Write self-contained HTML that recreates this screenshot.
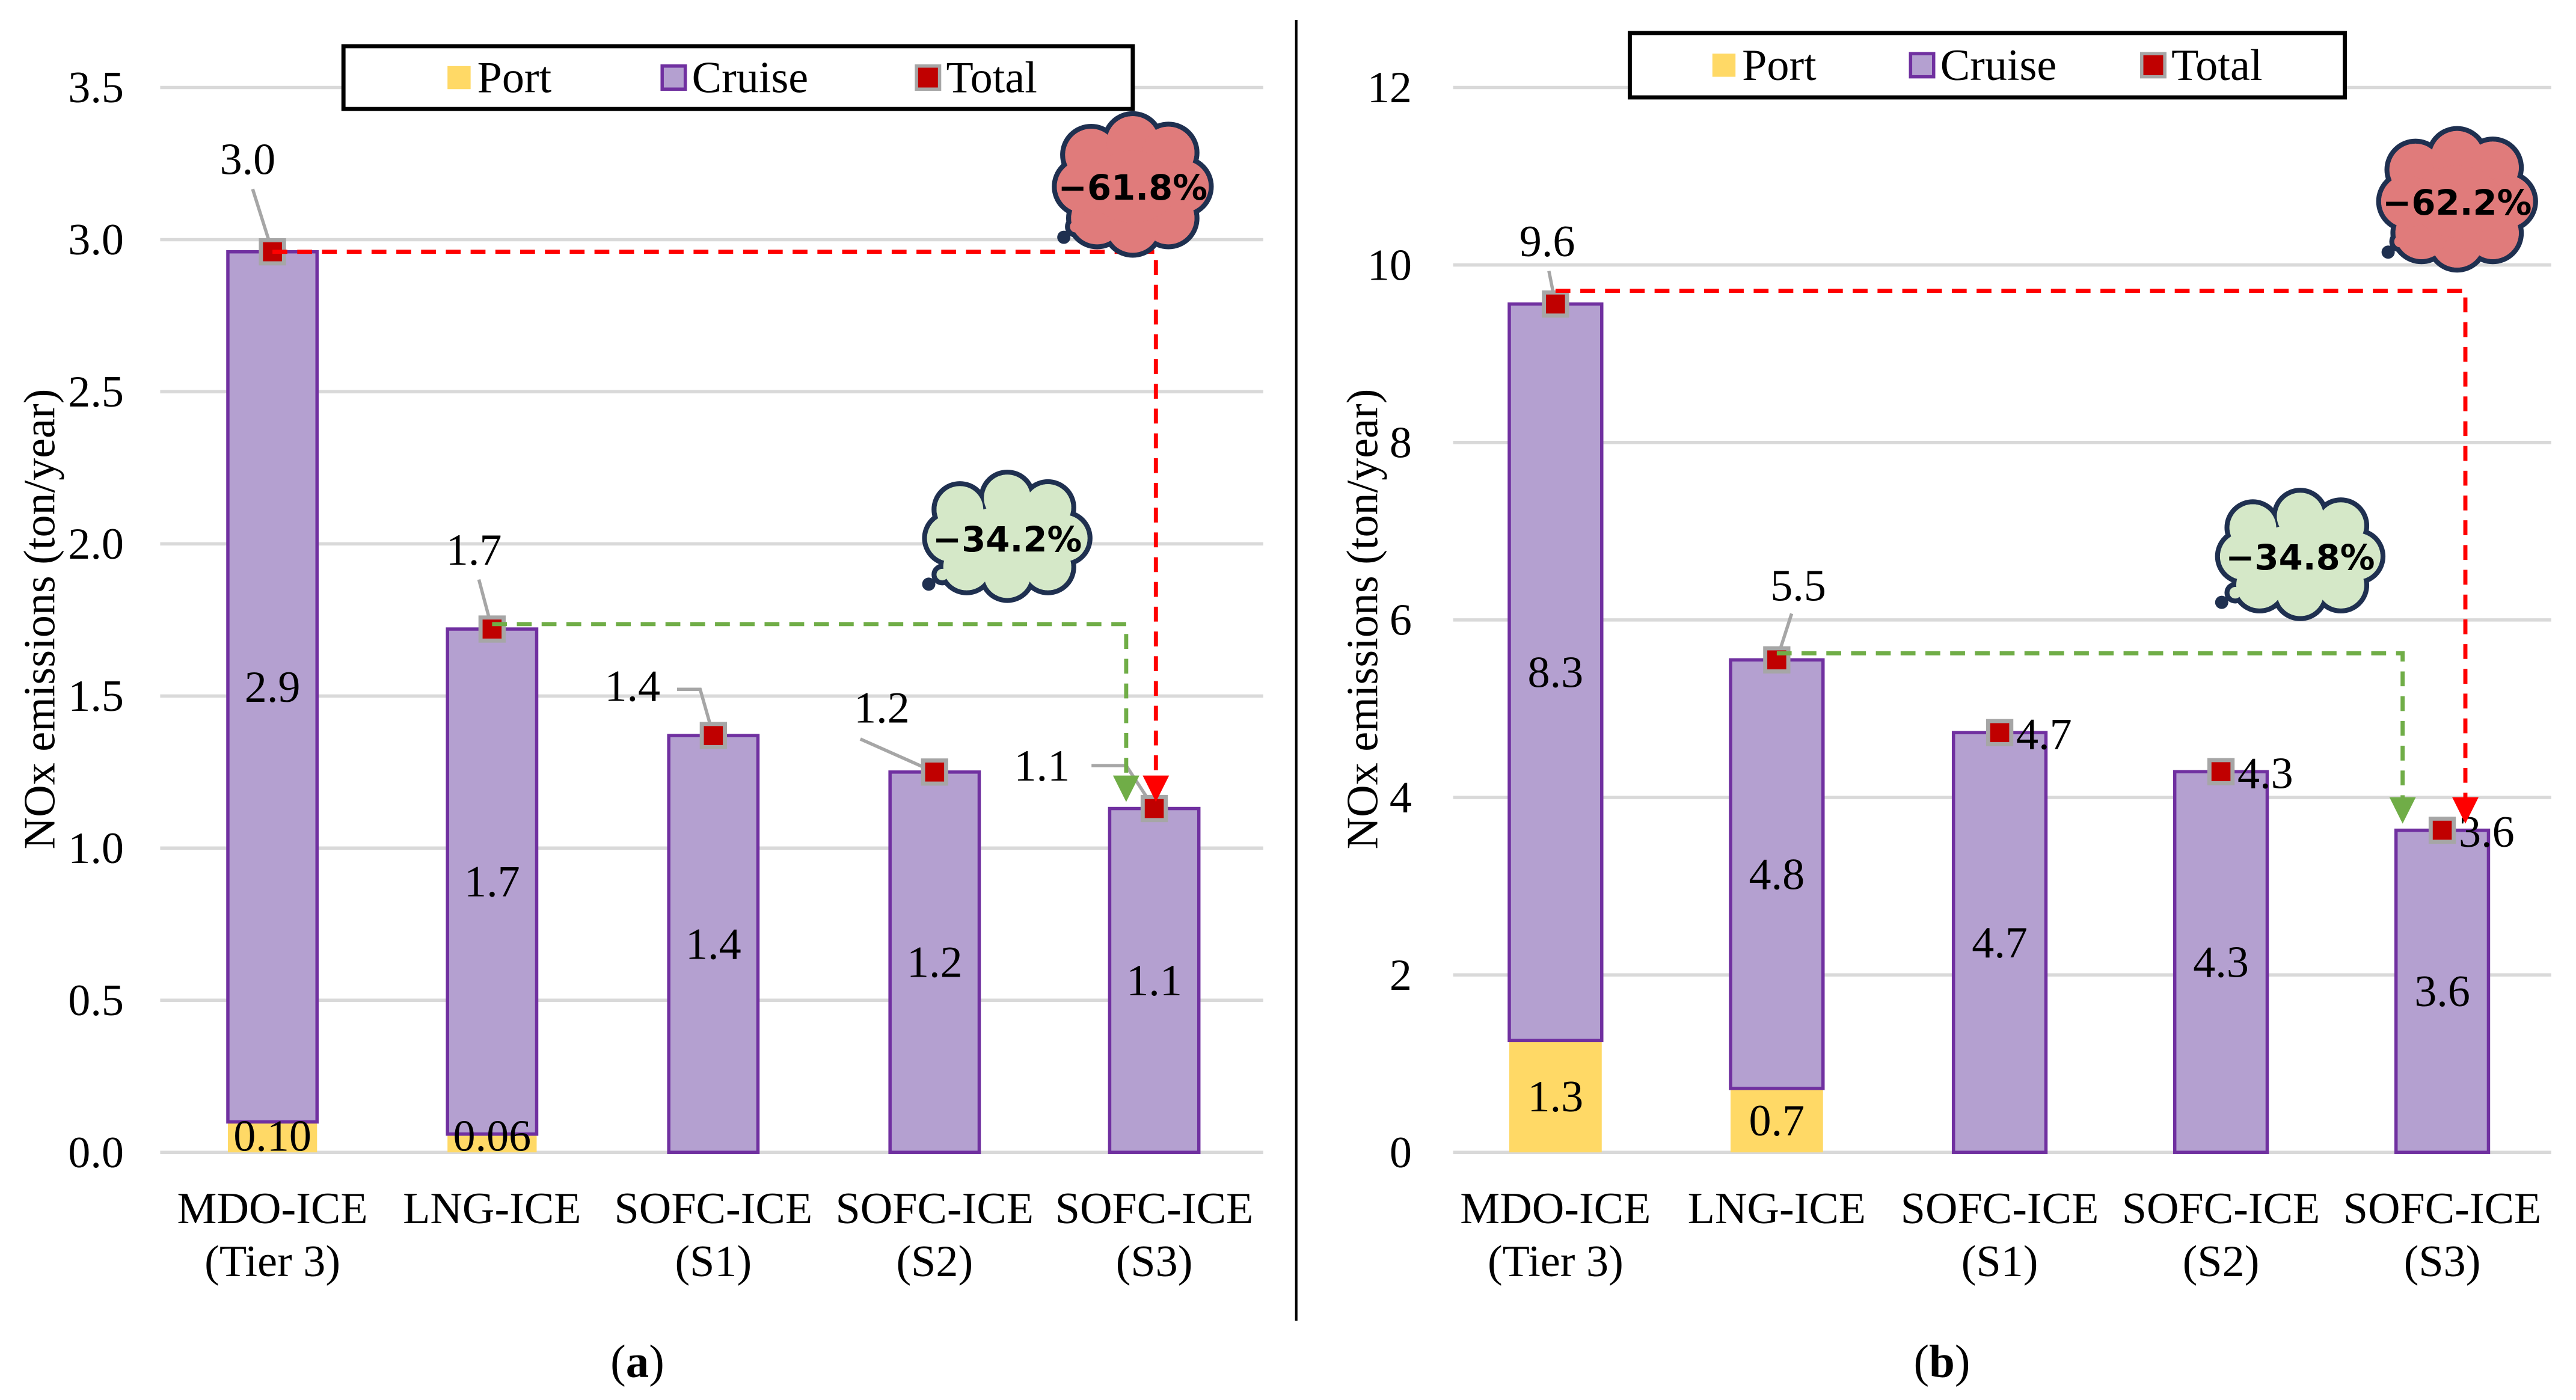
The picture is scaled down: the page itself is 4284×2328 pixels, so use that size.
<!DOCTYPE html>
<html><head><meta charset="utf-8"><style>
html,body{margin:0;padding:0;background:#fff;}
svg{display:block;}
</style></head><body>
<svg id="chart" width="4284" height="2328" viewBox="0 0 1560 848" preserveAspectRatio="none" xmlns="http://www.w3.org/2000/svg">
<rect x="0" y="0" width="1560" height="848" fill="#fff"/>
<line x1="785" y1="12" x2="785" y2="800" stroke="#000" stroke-width="1.5"/>
</svg>
<script>
const categories = [["MDO-ICE","(Tier 3)"],["LNG-ICE",""],["SOFC-ICE","(S1)"],["SOFC-ICE","(S2)"],["SOFC-ICE","(S3)"]];
const portA = [0.10,0.06,0,0,0];
const cruiseA = [2.86,1.66,1.37,1.25,1.13];
const cruiseLabelsA = ["2.9","1.7","1.4","1.2","1.1"];
const portLabelsA = ["0.10","0.06","","",""];
const totalLabelsA = ["3.0","1.7","1.4","1.2","1.1"];
const ticksA = [0,0.5,1.0,1.5,2.0,2.5,3.0,3.5];
const tickLabelsA = ["0.0","0.5","1.0","1.5","2.0","2.5","3.0","3.5"];
const portB = [1.26,0.72,0,0,0];
const cruiseB = [8.30,4.83,4.73,4.29,3.63];
const cruiseLabelsB = ["8.3","4.8","4.7","4.3","3.6"];
const portLabelsB = ["1.3","0.7","","",""];
const totalLabelsB = ["9.6","5.5","4.7","4.3","3.6"];
const ticksB = [0,2,4,6,8,10,12];
const tickLabelsB = ["0","2","4","6","8","10","12"];

const NS="http://www.w3.org/2000/svg";
const SERIF="font-family:'Liberation Serif','DejaVu Serif',serif";
const SANSB="font-family:'DejaVu Sans','Liberation Sans',sans-serif;font-weight:bold";
const FS=27;
const svg=document.getElementById('chart');
function el(tag,attrs,parent){const e=document.createElementNS(NS,tag);for(const k in attrs)e.setAttribute(k,attrs[k]);(parent||svg).appendChild(e);return e;}
function txt(s,attrs,parent){if(!attrs.style)attrs.style=SERIF;const e=el('text',attrs,parent);e.textContent=s;return e;}

function cloud(g,cx,cy,w,h,fill,label){
  const pts=[[-0.35,-0.3],[0,-0.42],[0.3,-0.32],[0.42,0],[0.3,0.3],[0,0.38],[-0.3,0.3],[-0.42,0]];
  const r=Math.min(w,h)*0.27;
  pts.forEach(p=>el('circle',{cx:cx+p[0]*w,cy:cy+p[1]*h,r:r,fill:fill,stroke:'#1f3050','stroke-width':3},g));
  el('circle',{cx:cx-0.48*w,cy:cy+0.38*h,r:5,fill:fill,stroke:'#1f3050','stroke-width':3},g);
  el('circle',{cx:cx-0.58*w,cy:cy+0.48*h,r:4,fill:'#1f3050'},g);
  pts.forEach(p=>el('circle',{cx:cx+p[0]*w,cy:cy+p[1]*h,r:r-1.5,fill:fill},g));
  el('ellipse',{cx:cx,cy:cy,rx:w*0.38,ry:h*0.34,fill:fill},g);
  return txt(label,{x:cx,y:cy+8,'text-anchor':'middle','font-size':21,style:SANSB,fill:'#000'},g);
}

function panel(cfg){
  const g=el('g',{});
  
  
  const y=v=>cfg.y0-(v/cfg.max)*(cfg.y0-cfg.yTop);
  const xc=i=>cfg.xs[i];
  cfg.ticks.forEach((t,i)=>{
    const gl=el('line',{x1:cfg.gx1,x2:cfg.gx2,y1:y(t),y2:y(t),stroke:'#d9d9d9','stroke-width':2},g);
    
    
    const tl=txt(cfg.tickLabels[i],{x:cfg.tickX,y:y(t)+9,'text-anchor':'end','font-size':FS},g);
    
    
  });
  const yt=txt('NOx emissions (ton/year)',{x:0,y:0,'text-anchor':'middle','font-size':FS,transform:`translate(${cfg.titleX},375) rotate(-90)`},g);
  
  
  const bw=cfg.bw;
  categories.forEach((c,i)=>{
    const p=cfg.port[i], cr=cfg.cruise[i], tot=p+cr;
    if(p>0){
      const pb=el('rect',{x:xc(i)-bw/2,y:y(p),width:bw,height:y(0)-y(p),fill:'#ffd966'},g);
      
      
    }
    const cb=el('rect',{x:xc(i)-bw/2,y:y(tot),width:bw,height:y(p)-y(tot),fill:'#b4a0d0',stroke:'#7030a0','stroke-width':2},g);
    
    
    const cl=txt(cfg.cruiseLabels[i],{x:xc(i),y:(y(p)+y(tot))/2+9,'text-anchor':'middle','font-size':FS},g);
    
    
    if(cfg.portLabels[i]){
      const ly=cfg.portInside?(y(0)+y(p))/2+9:y(0)-1;
      const pl=txt(cfg.portLabels[i],{x:xc(i),y:ly,'text-anchor':'middle','font-size':FS},g);
      
      
    }
    const lab=cfg.totalLabelPos[i];
    if(lab.line){
      const ln=el('polyline',{points:lab.line.map(q=>(xc(i)+q[0])+','+(y(tot)+q[1])).join(' '),fill:'none',stroke:'#a6a6a6','stroke-width':2},g);
      
      
    }
    const tl=txt(cfg.totalLabels[i],{x:xc(i)+lab.dx,y:y(tot)+lab.dy,'text-anchor':lab.anchor||'middle','font-size':FS},g);
    
    
    const mk=el('rect',{x:xc(i)-7,y:y(tot)-7,width:14,height:14,fill:'#c00000',stroke:'#a6a6a6','stroke-width':2.5},g);
    
    
    c.forEach((line,k)=>{
      if(!line)return;
      const ct=txt(line,{x:xc(i),y:741+k*32,'text-anchor':'middle','font-size':FS},g);
      
      
    });
  });
  const t0=cfg.port[0]+cfg.cruise[0], t1=cfg.port[1]+cfg.cruise[1], t4=cfg.port[4]+cfg.cruise[4];
  const ry=y(t0)-cfg.redOff;
  const rd=el('polyline',{points:`${xc(0)},${ry} ${cfg.redX},${ry} ${cfg.redX},${y(t4)-18}`,fill:'none',stroke:'#ff0000','stroke-width':2.5,'stroke-dasharray':'9,6'},g);
  
  
  el('polygon',{points:`${cfg.redX-8},${y(t4)-20} ${cfg.redX+8},${y(t4)-20} ${cfg.redX},${y(t4)-4}`,fill:'#ff0000'},g);
  const gy=y(t1)-cfg.greenOff;
  const gd=el('polyline',{points:`${xc(1)},${gy} ${cfg.greenX},${gy} ${cfg.greenX},${y(t4)-18}`,fill:'none',stroke:'#70ad47','stroke-width':2.5,'stroke-dasharray':'9,6'},g);
  
  
  el('polygon',{points:`${cfg.greenX-8},${y(t4)-20} ${cfg.greenX+8},${y(t4)-20} ${cfg.greenX},${y(t4)-4}`,fill:'#70ad47'},g);
  const rc=el('g',{},g);
  
  
  cloud(rc,cfg.redCloud[0],cfg.redCloud[1],72,64,'#e07b7b',cfg.redText);
  const gc=el('g',{},g);
  
  
  cloud(gc,cfg.greenCloud[0],cfg.greenCloud[1],82,58,'#d5e8c8',cfg.greenText);
  const lg=el('g',{},g);
  
  
  const L=cfg.legend;
  el('rect',{x:L[0],y:L[1],width:L[2],height:L[3],fill:'#fff',stroke:'#000','stroke-width':2.5},lg);
  const ly=L[1]+L[3]/2;
  const items=[['Port','#ffd966','none'],['Cruise','#b4a0d0','#7030a0'],['Total','#c00000','#a6a6a6']];
  items.forEach((it,k)=>{
    const ex=L[0]+cfg.legendOff[k];
    const sw=el('rect',{x:ex,y:ly-7,width:14,height:14,fill:it[1],stroke:it[2],'stroke-width':2},lg);
    
    
    const lt=txt(it[0],{x:ex+18,y:ly+9,'font-size':FS},lg);
    
    
  });
  const pl=el('text',{x:cfg.panelLabelX,y:834,'text-anchor':'middle','font-size':28,style:SERIF},g);
  
  
  pl.innerHTML='(<tspan font-weight="bold">'+cfg.panelLetter+'</tspan>)';
}

panel({name:'panel-a',y0:698,yTop:53,max:3.5,gx1:97,gx2:765,tickX:75,titleX:33,xs:[165,298,432,566,699],bw:54,
  port:portA,cruise:cruiseA,cruiseLabels:cruiseLabelsA,portLabels:portLabelsA,portInside:false,totalLabels:totalLabelsA,
  ticks:ticksA,tickLabels:tickLabelsA,
  totalLabelPos:[{dx:-15,dy:-47,line:[[-12,-38],[0,0]]},{dx:-11,dy:-39,line:[[-8,-30],[0,0]]},{dx:-49,dy:-21,line:[[-22,-28],[-8,-28],[0,0]]},{dx:-32,dy:-30,line:[[-45,-20],[0,0]]},{dx:-68,dy:-17,line:[[-38,-26],[-17,-26],[0,0]]}],
  redX:700,greenX:682,redOff:0,greenOff:3,redCloud:[686,113],greenCloud:[610,326],redText:'\u221261.8%',greenText:'\u221234.2%',
  legend:[208,28,478,38],legendOff:[63,193,347],panelLabelX:386,panelLetter:'a'});
panel({name:'panel-b',y0:698,yTop:53,max:12,gx1:880,gx2:1545,tickX:855,titleX:834,xs:[942,1076,1211,1345,1479],bw:56,
  port:portB,cruise:cruiseB,cruiseLabels:cruiseLabelsB,portLabels:portLabelsB,portInside:true,totalLabels:totalLabelsB,
  ticks:ticksB,tickLabels:tickLabelsB,
  totalLabelPos:[{dx:-5,dy:-29,line:[[-4,-20],[0,0]]},{dx:13,dy:-36,line:[[9,-28],[0,0]]},{dx:10,dy:10,anchor:'start'},{dx:10,dy:10,anchor:'start'},{dx:10,dy:10,anchor:'start'}],
  redX:1493,greenX:1455,redOff:8,greenOff:4,redCloud:[1488,122],greenCloud:[1393,337],redText:'\u221262.2%',greenText:'\u221234.8%',
  legend:[987,20,433,39],legendOff:[50,170,310],panelLabelX:1176,panelLetter:'b'});
</script>
</body></html>
